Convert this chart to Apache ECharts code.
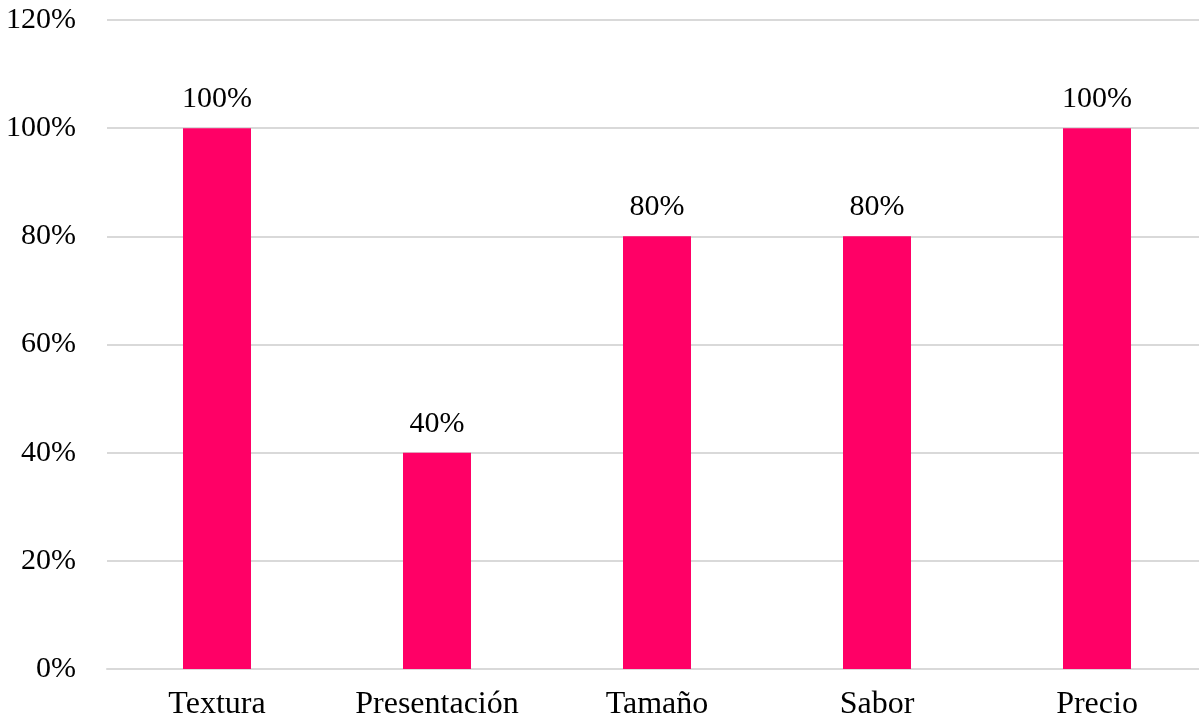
<!DOCTYPE html>
<html>
<head>
<meta charset="utf-8">
<script src="https://cdn.jsdelivr.net/npm/echarts@6/dist/echarts.min.js"></script>
<style>
  html, body { margin: 0; padding: 0; background: #fff; overflow: hidden; }
  /* the plot area runs a little past the right edge of the window */
  #chart { width: 1207px; height: 721px; }
</style>
</head>
<body>
<div id="chart"></div>
<script>
// Evaluation criteria and share of positive ratings (%)
const categories = ['Textura', 'Presentación', 'Tamaño', 'Sabor', 'Precio'];
const values = [100, 40, 80, 80, 100];

const font = '"Liberation Serif", "Times New Roman", serif';

const chart = echarts.init(document.getElementById('chart'), null, { renderer: 'canvas' });
chart.setOption({
  animation: false,
  backgroundColor: '#ffffff',
  grid: { left: 107, right: 0, top: 20, bottom: 52, containLabel: false },
  xAxis: {
    type: 'category',
    data: categories,
    axisLine: { show: true, lineStyle: { color: '#d9d9d9', width: 2 } },
    axisTick: { show: false },
    axisLabel: { color: '#000', fontFamily: font, fontSize: 32, margin: 20 }
  },
  yAxis: {
    type: 'value',
    min: 0,
    max: 120,
    interval: 20,
    axisLine: { show: false },
    axisTick: { show: false },
    splitLine: { lineStyle: { color: '#d9d9d9', width: 2 } },
    axisLabel: {
      color: '#000', fontFamily: font, fontSize: 30, margin: 31,
      formatter: v => v + '%'
    }
  },
  series: [{
    type: 'bar',
    data: values,
    barWidth: 68,
    itemStyle: { color: '#ff0066' },
    label: {
      show: true,
      position: 'top',
      distance: 14,
      color: '#000',
      fontFamily: font,
      fontSize: 30,
      formatter: p => p.value + '%'
    }
  }]
});
</script>
</body>
</html>
